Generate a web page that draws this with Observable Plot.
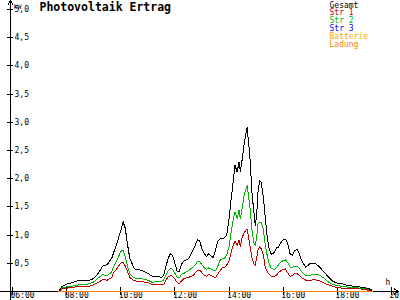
<!DOCTYPE html>
<html><head><meta charset="utf-8">
<script src="https://cdn.jsdelivr.net/npm/d3@7"></script>
<script src="https://cdn.jsdelivr.net/npm/@observablehq/plot@0.6"></script>
<style>html,body{margin:0;padding:0;background:#fff}#chart svg{shape-rendering:crispEdges;display:block}</style>
</head><body><div id="chart"></div>
<script>
const times = ["07:42","07:50","08:00","08:10","08:20","08:30","08:40","08:50","09:00","09:10","09:20","09:30","09:40","09:45","09:50","09:55","10:00","10:05","10:10","10:15","10:20","10:30","10:40","10:50","11:00","11:10","11:20","11:30","11:35","11:40","11:45","11:50","11:55","12:00","12:05","12:10","12:15","12:20","12:30","12:40","12:45","12:50","12:55","13:00","13:05","13:10","13:15","13:20","13:25","13:30","13:35","13:40","13:45","13:50","13:55","14:00","14:05","14:09","14:13","14:18","14:22","14:25","14:29","14:34","14:40","14:46","14:51","14:55","14:58","15:01","15:04","15:08","15:11","15:16","15:20","15:24","15:28","15:33","15:40","15:45","15:50","15:55","16:00","16:05","16:10","16:15","16:20","16:25","16:30","16:35","16:40","16:50","17:00","17:10","17:20","17:30","17:40","17:50","18:00","18:10","18:20","18:40","19:00","19:10","19:15","19:18"];
const gesamt = [0,0.09,0.13,0.15,0.18,0.20,0.20,0.20,0.23,0.32,0.45,0.48,0.59,0.71,0.82,0.95,1.08,1.24,1.12,0.83,0.59,0.40,0.39,0.36,0.32,0.27,0.27,0.25,0.28,0.44,0.59,0.67,0.64,0.50,0.35,0.36,0.49,0.54,0.58,0.73,0.82,0.92,0.90,0.75,0.67,0.62,0.67,0.63,0.60,0.73,0.89,0.93,0.94,0.95,1.01,1.29,1.67,1.94,2.24,2.12,2.29,2.13,2.34,2.65,2.91,2.41,1.72,1.41,1.17,1.33,1.75,1.97,1.94,1.68,1.33,1.01,0.79,0.66,0.69,0.77,0.79,0.87,0.92,0.93,0.85,0.67,0.64,0.72,0.75,0.69,0.56,0.43,0.50,0.50,0.44,0.35,0.26,0.18,0.15,0.14,0.11,0.09,0.07,0.05,0.03,0];
const str1 = [0,0.05,0.06,0.07,0.08,0.09,0.09,0.09,0.12,0.16,0.21,0.20,0.25,0.35,0.39,0.45,0.50,0.52,0.45,0.35,0.25,0.19,0.18,0.17,0.16,0.12,0.12,0.12,0.12,0.20,0.26,0.28,0.27,0.22,0.16,0.14,0.19,0.23,0.25,0.28,0.33,0.37,0.38,0.33,0.29,0.27,0.30,0.28,0.26,0.25,0.31,0.37,0.42,0.43,0.47,0.54,0.71,0.81,0.89,0.82,0.92,0.79,0.96,1.05,1.11,0.82,0.58,0.49,0.46,0.59,0.73,0.79,0.76,0.65,0.44,0.36,0.31,0.27,0.27,0.29,0.34,0.37,0.39,0.40,0.33,0.27,0.28,0.32,0.32,0.29,0.25,0.20,0.20,0.21,0.19,0.15,0.12,0.09,0.07,0.06,0.05,0.05,0.04,0.02,0.02,0];
const str2 = [0,0.07,0.08,0.09,0.11,0.12,0.12,0.14,0.17,0.24,0.30,0.28,0.35,0.46,0.53,0.62,0.71,0.74,0.62,0.44,0.31,0.24,0.23,0.22,0.20,0.16,0.18,0.18,0.20,0.29,0.37,0.41,0.39,0.32,0.25,0.24,0.31,0.32,0.37,0.43,0.47,0.53,0.53,0.47,0.42,0.39,0.42,0.40,0.38,0.37,0.45,0.55,0.58,0.59,0.66,0.80,1.08,1.26,1.41,1.29,1.44,1.29,1.47,1.74,1.88,1.52,1.08,0.87,0.82,0.94,1.19,1.23,1.23,1.10,0.83,0.66,0.52,0.41,0.39,0.42,0.48,0.52,0.55,0.56,0.51,0.43,0.43,0.45,0.45,0.42,0.36,0.28,0.29,0.31,0.29,0.24,0.17,0.12,0.11,0.09,0.08,0.07,0.05,0.04,0.03,0];
const baseTimes = ["07:42","19:18"];
const str3 = [0,0];
const batterie = [0,0];
const ladung = [0,0];
const xTickLabels = ["06:00","08:00","10:00","12:00","14:00","16:00","18:00","20:00"];
const yTickValues = [0.5,1.0,1.5,2.0,2.5,3.0,3.5,4.0,4.5,5.0];
const yTickLabels = ["0,5","1,0","1,5","2,0","2,5","3,0","3,5","4,0","4,5","5,0"];
const legendLabels = ["Gesamt","Str 1","Str 2","Str 3","Batterie","Ladung"];

const colors = {"Gesamt":"#000000","Str 1":"#c00000","Str 2":"#00b400","Str 3":"#0000ff","Batterie":"#ffa500","Ladung":"#ff8000"};
const font = "'DejaVu Sans Mono', monospace";
const hours = s => +s.slice(0,2) + (+s.slice(3))/60;
const rows = (ts, vs) => ts.map((t,i) => ({t: hours(t), v: vs[i]}));
const xTicks = xTickLabels.map((l) => ({h: hours(l), label: l}));
const yTicks = yTickValues.map((v,i) => ({v, label: yTickLabels[i]}));

const line = (ts, vs, name) => Plot.lineY(rows(ts, vs), {x:"t", y:"v", stroke: colors[name], strokeWidth: 1});

const chart = Plot.plot({
  width: 400, height: 300,
  marginLeft: 12, marginRight: 9, marginTop: 9, marginBottom: 9,
  x: {domain: [6, 20], axis: null},
  y: {domain: [0, 5], axis: null},
  style: {background: "#fff", fontFamily: font, fontSize: "8px", overflow: "visible"},
  marks: [
    // axes
    Plot.arrow([0], {x1: 5.55, x2: 20.27, y1: 0, y2: 0, stroke: "#000", strokeWidth: 1, headLength: 8}),
    Plot.arrow([0], {x1: 6, x2: 6, y1: -0.2, y2: 5.16, dx: -2, stroke: "#000", strokeWidth: 1, headLength: 8}),
    Plot.ruleY(yTicks, {y: "v", x1: 6 - 0.11, x2: 6 + 0.11, dx: -2, stroke: "#000", strokeWidth: 1}),
    Plot.ruleX(xTicks, {x: "h", y1: -0.065, y2: 0.065, stroke: "#000", strokeWidth: 1}),
    Plot.text(yTicks, {x: 6, y: "v", text: "label", dx: 2, textAnchor: "start", fill: "#000", fontSize: 8}),
    Plot.text(xTicks, {x: "h", y: 0, text: "label", dx: -2, dy: 4.3, textAnchor: "start", fill: "#000", fontSize: 8}),
    Plot.text(["kW"], {frameAnchor: "top-left", dx: 1, dy: -5.5, textAnchor: "start", fontSize: 6.5, fill: "#000"}),
    Plot.text(["h"], {x: 20, y: 0, dx: -6, dy: -9.5, textAnchor: "start", fontSize: 8, fill: "#000"}),
    // series
    line(times, str1, "Str 1"),
    line(times, str2, "Str 2"),
    line(times, gesamt, "Gesamt"),
    line(baseTimes, str3, "Str 3"),
    line(baseTimes, batterie, "Batterie"),
    line(baseTimes, ladung, "Ladung"),
    // title
    Plot.text(["Photovoltaik Ertrag"], {frameAnchor: "top-left", dx: 27, dy: -2, textAnchor: "start", lineAnchor: "middle", fontSize: 11.5, fontWeight: "bold", fill: "#000"}),
    // legend
    ...legendLabels.map((name, i) => Plot.text([name], {frameAnchor: "top-left", dx: 317, dy: -4.5 + i * 7.9, textAnchor: "start", lineAnchor: "middle", fontSize: 8, fill: colors[name]}))
  ]
});
document.getElementById("chart").appendChild(chart);
</script>
</body></html>
